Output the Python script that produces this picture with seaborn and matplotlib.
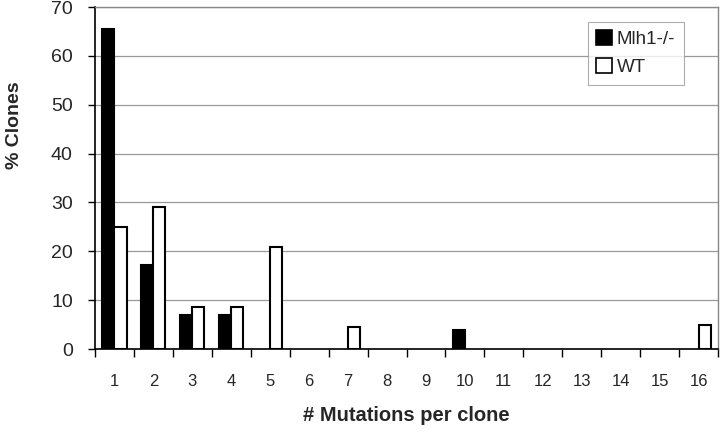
import pandas as pd
import numpy as np
import matplotlib.pyplot as plt
import seaborn as sns
from matplotlib.ticker import FixedLocator
from matplotlib.patches import Patch

mutations = [str(i) for i in range(1, 17)]
mlh1 = [65.5, 17.2, 7.0, 7.0, 0, 0, 0, 0, 0, 3.9, 0, 0, 0, 0, 0, 0]
wt = [24.9, 29.0, 8.5, 8.5, 20.9, 0, 4.6, 0, 0, 0, 0, 0, 0, 0, 0, 4.9]

df = pd.DataFrame({
    'Mutations': mutations * 2,
    'Clones': mlh1 + wt,
    'Genotype': ['Mlh1-/-'] * 16 + ['WT'] * 16,
})

sns.set_style('white')
plt.rcParams['font.family'] = ['Liberation Sans', 'DejaVu Sans']

fig = plt.figure(figsize=(7.2, 4.32), dpi=100)
ax = fig.add_axes([95 / 720, 1 - 349 / 432, 623 / 720, 342 / 432])

colors = {'Mlh1-/-': 'black', 'WT': 'white'}
sns.barplot(data=df, x='Mutations', y='Clones', hue='Genotype',
            palette=colors, edgecolor='black', linewidth=1.5, width=0.62,
            ax=ax, legend=False)

# empty bars are not drawn in the original
for p in ax.patches:
    if p.get_height() == 0:
        p.set_visible(False)

ax.set_ylim(0, 70)
ax.set_xlim(-0.5, 15.5)
ax.set_yticks(range(0, 71, 10))
ax.yaxis.grid(True, color='#999999', linewidth=0.9)
ax.set_axisbelow(True)

# ticks between categories
ax.xaxis.set_minor_locator(FixedLocator(np.arange(-0.5, 16.0, 1)))
ax.tick_params(axis='x', which='major', length=0, labelsize=12, pad=18)
ax.tick_params(axis='x', which='minor', length=6, width=1, color='black', direction='out', bottom=True)
ax.tick_params(axis='y', which='major', length=5, width=1, color='black', direction='out', left=True, labelsize=14, pad=11)

for side in ['left', 'bottom']:
    ax.spines[side].set_color('black')
    ax.spines[side].set_linewidth(1.2)
for side in ['top', 'right']:
    ax.spines[side].set_color('#888888')
    ax.spines[side].set_linewidth(1)

ax.set_xlabel('# Mutations per clone', fontsize=14.5, fontweight='bold', labelpad=12)
ax.set_ylabel('% Clones', fontsize=14, fontweight='bold')
ax.yaxis.set_label_coords(-0.116, 0.655)

handles = [Patch(facecolor=colors[g], edgecolor='black', linewidth=1.2, label=g) for g in colors]
leg = ax.legend(handles=handles, loc='upper right', bbox_to_anchor=(0.945, 0.957), fontsize=13.5,
                frameon=True, fancybox=False, edgecolor='#999999',
                handlelength=0.85, handleheight=0.85, handletextpad=0.25,
                borderpad=0.45, labelspacing=0.55, borderaxespad=0)
leg.get_frame().set_linewidth(0.8)

plt.savefig('out.png', dpi=100)
